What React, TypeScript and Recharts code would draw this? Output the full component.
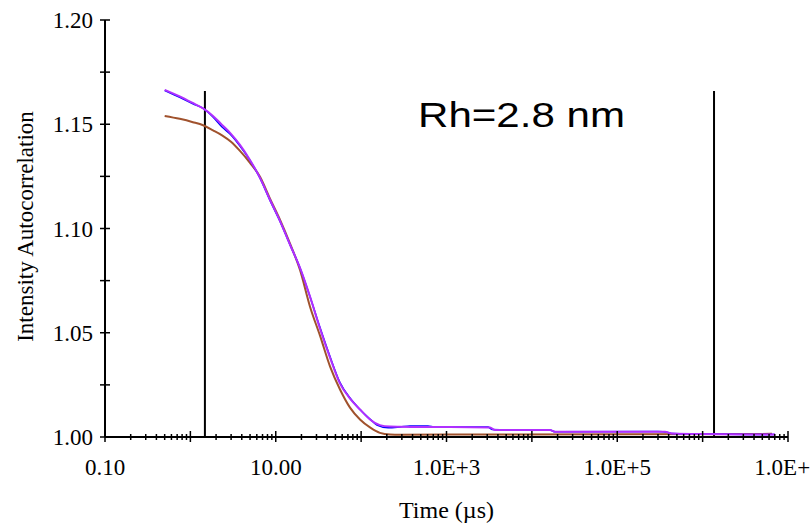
import React from 'react'
import { LineChart, Line, XAxis, YAxis, ReferenceLine } from 'recharts'

// fitted curve (purple)
const fitTimes = [0.5, 0.75, 1.07, 1.41, 1.84, 2.35, 2.99, 3.81, 4.99, 6.54, 8.56, 11.2, 14.7, 19.2, 25.2, 33.0, 43.2, 56.6, 74.1, 97, 127, 166, 218, 285, 490, 1100, 3240, 3700, 16300, 18700, 362000, 438000, 931000, 7.05e6]
const fitValues = [1.1665, 1.1634, 1.1602, 1.1576, 1.154, 1.1497, 1.1454, 1.1401, 1.1329, 1.1243, 1.1138, 1.1037, 1.0922, 1.0812, 1.0673, 1.052, 1.0381, 1.0256, 1.0184, 1.0132, 1.0084, 1.0057, 1.005, 1.0049, 1.0048, 1.0048, 1.0046, 1.0033, 1.0033, 1.0025, 1.0025, 1.0017, 1.0014, 1.0012]

// measured data (blue), mostly hidden under the fit
const dataTimes = [0.5, 0.75, 1.07, 1.41, 1.84, 2.35, 2.99, 3.81, 4.99, 6.54, 8.56, 11.2, 14.7, 19.2, 25.2, 33.0, 43.2, 56.6, 74.1, 97, 127, 153, 207, 285, 373, 607, 733, 3060, 3410, 16300, 18700, 300000, 393000, 438000, 7.05e6]
const dataValues = [1.1662, 1.1629, 1.1598, 1.1576, 1.1535, 1.1487, 1.1449, 1.1396, 1.1327, 1.1241, 1.1135, 1.1035, 1.0922, 1.0812, 1.0673, 1.0525, 1.0386, 1.0261, 1.0187, 1.0132, 1.0086, 1.0057, 1.0044, 1.0048, 1.0053, 1.0053, 1.0048, 1.0048, 1.0036, 1.0033, 1.0025, 1.0026, 1.0022, 1.0017, 1.0012]

// second fit (brown)
const fit2Times = [0.5, 0.75, 1.07, 1.41, 1.84, 2.35, 2.99, 3.81, 4.99, 6.54, 8.56, 11.2, 14.7, 19.2, 25.2, 33.0, 43.2, 56.6, 74.1, 97, 127, 166, 218, 285, 1100, 6.5e6]
const fit2Values = [1.154, 1.1526, 1.151, 1.1495, 1.1471, 1.1447, 1.1416, 1.1372, 1.1315, 1.1248, 1.1143, 1.1042, 1.0927, 1.0802, 1.0625, 1.0486, 1.0339, 1.0228, 1.0141, 1.0084, 1.0046, 1.002, 1.0012, 1.0011, 1.0012, 1.0015]

// fit window cursors
const cursorTimes = [1.48, 1.36e6]
const cursorTop = 1.166

const xLabelValues = [0.1, 10, 1000, 1e5, 1e7]
const xLabelTexts = ['0.10', '10.00', '1.0E+3', '1.0E+5', '1.0E+7']
const yTicks = [1.0, 1.025, 1.05, 1.075, 1.1, 1.125, 1.15, 1.175, 1.2]
const yLabelValues = [1.0, 1.05, 1.1, 1.15, 1.2]
const yLabelTexts = ['1.00', '1.05', '1.10', '1.15', '1.20']

const zip = (ts: number[], vs: number[]) => ts.map((t, i) => ({ t, v: vs[i] }))

const xTicks: number[] = []
for (let k = -1; k < 7; k++) {
  for (let m = 1; m < 10; m++) xTicks.push(m * Math.pow(10, k))
}
xTicks.push(1e7)

const serif = '"Liberation Serif", "Times New Roman", serif'

function XTick(props: any) {
  const { x, y, payload } = props
  const lg = Math.log10(payload.value)
  const major = Math.abs(lg - Math.round(lg)) < 1e-6
  const idx = xLabelValues.findIndex((l) => Math.abs(Math.log10(l) - lg) < 1e-6)
  return (
    <g>
      <line x1={x} x2={x} y1={y - (major ? 6 : 3)} y2={y + (major ? 5 : 3)} stroke="#000" strokeWidth={1.5} />
      {idx >= 0 && (
        <text x={x} y={y + 38} textAnchor="middle" fontFamily={serif} fontSize={23} fill="#000">
          {xLabelTexts[idx]}
        </text>
      )}
    </g>
  )
}

function YTick(props: any) {
  const { x, y, payload } = props
  const idx = yLabelValues.findIndex((l) => Math.abs(l - payload.value) < 1e-6)
  return (
    <g>
      <line x1={x - 5} x2={x + 5} y1={y} y2={y} stroke="#000" strokeWidth={1.5} />
      {idx >= 0 && (
        <text x={x - 12} y={y + 8} textAnchor="end" fontFamily={serif} fontSize={23} fill="#000">
          {yLabelTexts[idx]}
        </text>
      )}
    </g>
  )
}

export default function App() {
  return (
    <div style={{ position: 'absolute', left: 0, top: 0, width: 811, height: 527, background: '#fff' }}>
      <LineChart width={811} height={527} margin={{ top: 20, right: 23, bottom: 0, left: 0 }}>
        <XAxis
          type="number"
          dataKey="t"
          scale="log"
          domain={[0.1, 1e7]}
          allowDataOverflow
          ticks={xTicks}
          interval={0}
          tickSize={0}
          tickMargin={0}
          tickLine={false}
          tick={<XTick />}
          height={90}
          axisLine={{ stroke: '#000', strokeWidth: 2 }}
          label={(p: any) => {
            const vb = p.viewBox
            return (
              <text x={vb.x + vb.width / 2} y={vb.y + 81} textAnchor="middle" fontFamily={serif} fontSize={24} fill="#000">
                Time (µs)
              </text>
            )
          }}
        />
        <YAxis
          type="number"
          domain={[1.0, 1.2]}
          allowDataOverflow
          ticks={yTicks}
          interval={0}
          tickSize={0}
          tickMargin={0}
          tickLine={false}
          tick={<YTick />}
          width={105}
          axisLine={{ stroke: '#000', strokeWidth: 2 }}
          label={(p: any) => {
            const vb = p.viewBox
            const cy = vb.y + vb.height / 2 - 2
            return (
              <text x={33} y={cy} transform={`rotate(-90 33 ${cy})`} textAnchor="middle" fontFamily={serif} fontSize={23} fill="#000">
                Intensity Autocorrelation
              </text>
            )
          }}
        />
        {cursorTimes.map((c) => (
          <ReferenceLine
            key={c}
            segment={[{ x: c, y: 1.0 }, { x: c, y: cursorTop }]}
            stroke="#000"
            strokeWidth={2}
          />
        ))}
        <Line data={zip(fit2Times, fit2Values)} dataKey="v" type="monotone" stroke="#a0522d" strokeWidth={2} dot={false} isAnimationActive={false} />
        <Line data={zip(dataTimes, dataValues)} dataKey="v" type="monotone" stroke="#0000ff" strokeWidth={1.5} dot={false} isAnimationActive={false} />
        <Line data={zip(fitTimes, fitValues)} dataKey="v" type="monotone" stroke="#b030ff" strokeWidth={2} dot={false} isAnimationActive={false} />
      </LineChart>
      <svg width={811} height={527} style={{ position: 'absolute', left: 0, top: 0, pointerEvents: 'none' }}>
        <text x={418} y={127} fontFamily='"Liberation Sans", Arial, sans-serif' fontSize={35} textLength={207} lengthAdjust="spacingAndGlyphs" fill="#000">
          Rh=2.8 nm
        </text>
      </svg>
    </div>
  )
}
